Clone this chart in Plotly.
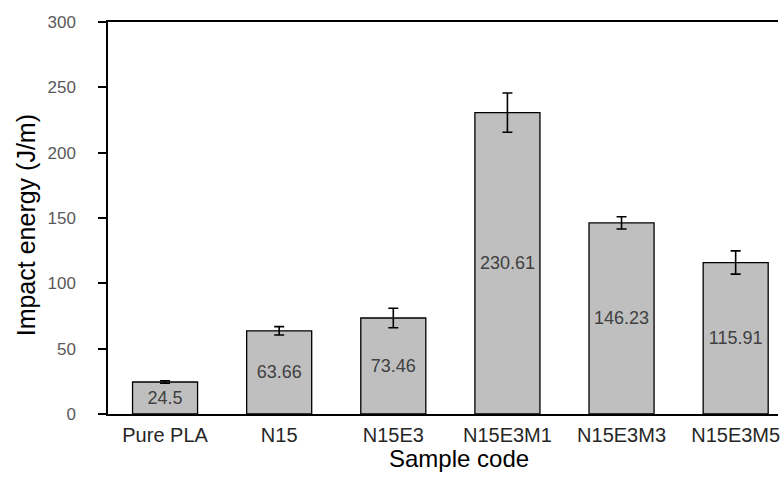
import plotly.graph_objects as go

# Impact energy of PLA composites
samples = ["Pure PLA", "N15", "N15E3", "N15E3M1", "N15E3M3", "N15E3M5"]
impact_energy = [24.5, 63.66, 73.46, 230.61, 146.23, 115.91]
std_dev = [1.0, 3.2, 7.5, 15.0, 4.7, 8.9]
y_ticks = [0, 50, 100, 150, 200, 250, 300]

FONT = "Liberation Sans, Arial, sans-serif"

fig = go.Figure()
fig.add_trace(go.Bar(
    x=samples,
    y=impact_energy,
    width=0.57,
    marker=dict(color="#bfbfbf", line=dict(color="#000000", width=1.3)),
    error_y=dict(type="data", array=std_dev, visible=True,
                 color="#000000", thickness=1.6, width=5),
    text=[str(v) for v in impact_energy],
    textposition="inside",
    insidetextanchor="middle",
    textangle=0,
    textfont=dict(family=FONT, size=18, color="#404040"),
    cliponaxis=False,
))

fig.update_layout(
    width=780,
    height=485,
    margin=dict(l=108, r=0, t=22, b=71),
    plot_bgcolor="white",
    paper_bgcolor="white",
    showlegend=False,
    font=dict(family=FONT),
    bargap=0.43,
    xaxis=dict(
        range=[-0.5, 5.371],
        showline=True, linecolor="#000000", linewidth=1.5,
        mirror=True,
        ticks="",
        showgrid=False,
        tickfont=dict(family=FONT, size=20, color="#262626"),
        ticklabelstandoff=2,
    ),
    yaxis=dict(
        range=[0, 300],
        tickvals=y_ticks,
        showline=True, linecolor="#000000", linewidth=1.5,
        ticks="outside", ticklen=8, tickwidth=1.5, tickcolor="#000000",
        showgrid=False,
        zeroline=False,
        tickfont=dict(family=FONT, size=17, color="#595959"),
        ticklabelstandoff=19,
    ),
    annotations=[
        dict(text="Sample code", xref="paper", yref="paper",
             x=(460 - 108) / 672, y=-0.113, xanchor="center", yanchor="middle",
             showarrow=False, font=dict(family=FONT, size=24, color="#000000")),
        dict(text="Impact energy (J/m)", xref="paper", yref="paper",
             x=(26 - 108) / 672, y=0.482, xanchor="center", yanchor="middle",
             textangle=-90, showarrow=False,
             font=dict(family=FONT, size=25, color="#000000")),
    ],
)

fig.write_html("out.html")
